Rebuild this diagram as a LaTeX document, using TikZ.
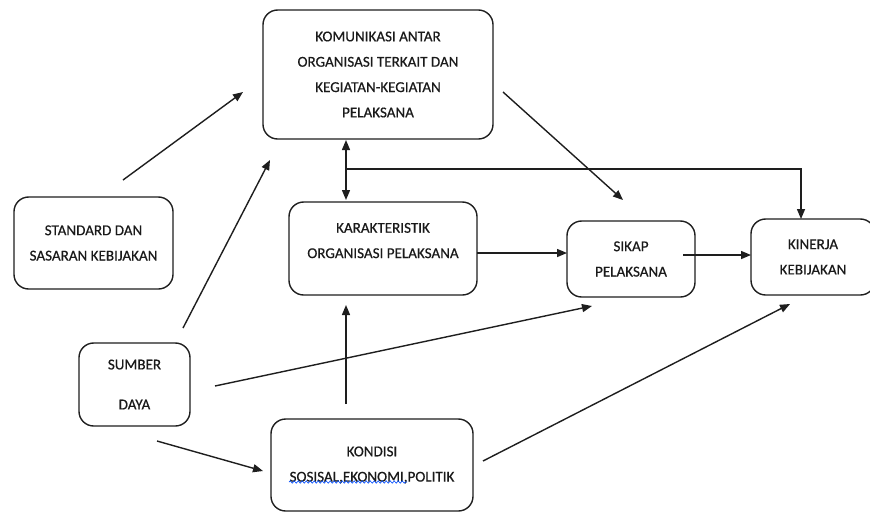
\documentclass[tikz,border=0pt]{standalone}
\usepackage{fontspec}
\setmainfont{Carlito}
\newfontfamily\boxfont{Carlito}[FakeBold=0.5]
\usetikzlibrary{arrows.meta,decorations.pathmorphing}
\definecolor{ink}{HTML}{1E1E1E}
\definecolor{txt}{HTML}{1A1A1A}
\begin{document}
\begin{tikzpicture}[x=0.75pt,y=-0.75pt,
  box/.style={draw=ink,line width=1.05pt,rounded corners=11pt,inner sep=0pt,outer sep=0pt,
    align=center,text=txt,font=\boxfont\fontsize{11.3}{19}\selectfont},
  conn/.style={draw=ink,line width=1.05pt,-{Triangle[length=7.5pt,width=6pt]}},
  conn2/.style={draw=ink,line width=1.05pt,{Triangle[length=7.5pt,width=6pt]}-{Triangle[length=7.5pt,width=6pt]}},
  plain/.style={draw=ink,line width=1.05pt}]
\clip (0,0) rectangle (870,515);
\fill[white] (0,0) rectangle (870,515);

\node[box,minimum width=172.5pt,minimum height=96.75pt] (kom) at (378,74.5)
  {KOMUNIKASI ANTAR\\ORGANISASI TERKAIT DAN\\KEGIATAN-KEGIATAN\\PELAKSANA};
\node[box,minimum width=119.25pt,minimum height=69pt] (std) at (93.5,243)
  {STANDARD DAN\\SASARAN KEBIJAKAN};
\node[box,minimum width=141pt,minimum height=69.75pt,text depth=12pt] (kar) at (383,248.5)
  {KARAKTERISTIK\\ORGANISASI PELAKSANA};
\node[box,minimum width=96pt,minimum height=57pt] (sik) at (631,259)
  {SIKAP\\PELAKSANA};
\node[box,minimum width=93pt,minimum height=57pt] (kin) at (813,257)
  {KINERJA\\KEBIJAKAN};
\node[box,minimum width=83.25pt,minimum height=62.25pt] (sum) at (134.5,384.5)
  {SUMBER\\[11pt]DAYA};
\node[box,minimum width=151.5pt,minimum height=69pt] (kon) at (372,465)
  {KONDISI\\SOSISAL,EKONOMI,POLITIK};

% wavy spell-check underline
\coordinate (wavA) at (289,482);
\coordinate (wavB) at (407,482);
\draw[blue!70!cyan,line width=0.5pt,decorate,decoration={snake,amplitude=0.8pt,segment length=3pt}] (wavA) -- (wavB);

% connector end points
\coordinate (a1s) at (123,180); \coordinate (a1e) at (243,92);
\coordinate (a2s) at (183,328); \coordinate (a2e) at (270,160);
\coordinate (a3s) at (503,92);  \coordinate (a3e) at (623,200);
\coordinate (a4s) at (346,140); \coordinate (a4e) at (346,200);
\coordinate (a5s) at (346,169); \coordinate (a5e) at (801,219);
\coordinate (a6s) at (477,253); \coordinate (a6e) at (567,253);
\coordinate (a7s) at (683,255); \coordinate (a7e) at (751,255);
\coordinate (a8s) at (346,404); \coordinate (a8e) at (346,305);
\coordinate (a9s) at (215,386); \coordinate (a9e) at (592,306);
\coordinate (a10s) at (157,441); \coordinate (a10e) at (263,471);
\coordinate (a11s) at (483,461); \coordinate (a11e) at (790,304);

\draw[conn] (a1s) -- (a1e);
\draw[conn] (a2s) -- (a2e);
\draw[conn] (a3s) -- (a3e);
\draw[conn2] (a4s) -- (a4e);
\draw[conn] (a5s) -| (a5e);
\draw[conn] (a6s) -- (a6e);
\draw[conn] (a7s) -- (a7e);
\draw[conn] (a8s) -- (a8e);
\draw[conn] (a9s) -- (a9e);
\draw[conn] (a10s) -- (a10e);
\draw[conn] (a11s) -- (a11e);
\end{tikzpicture}
\end{document}
